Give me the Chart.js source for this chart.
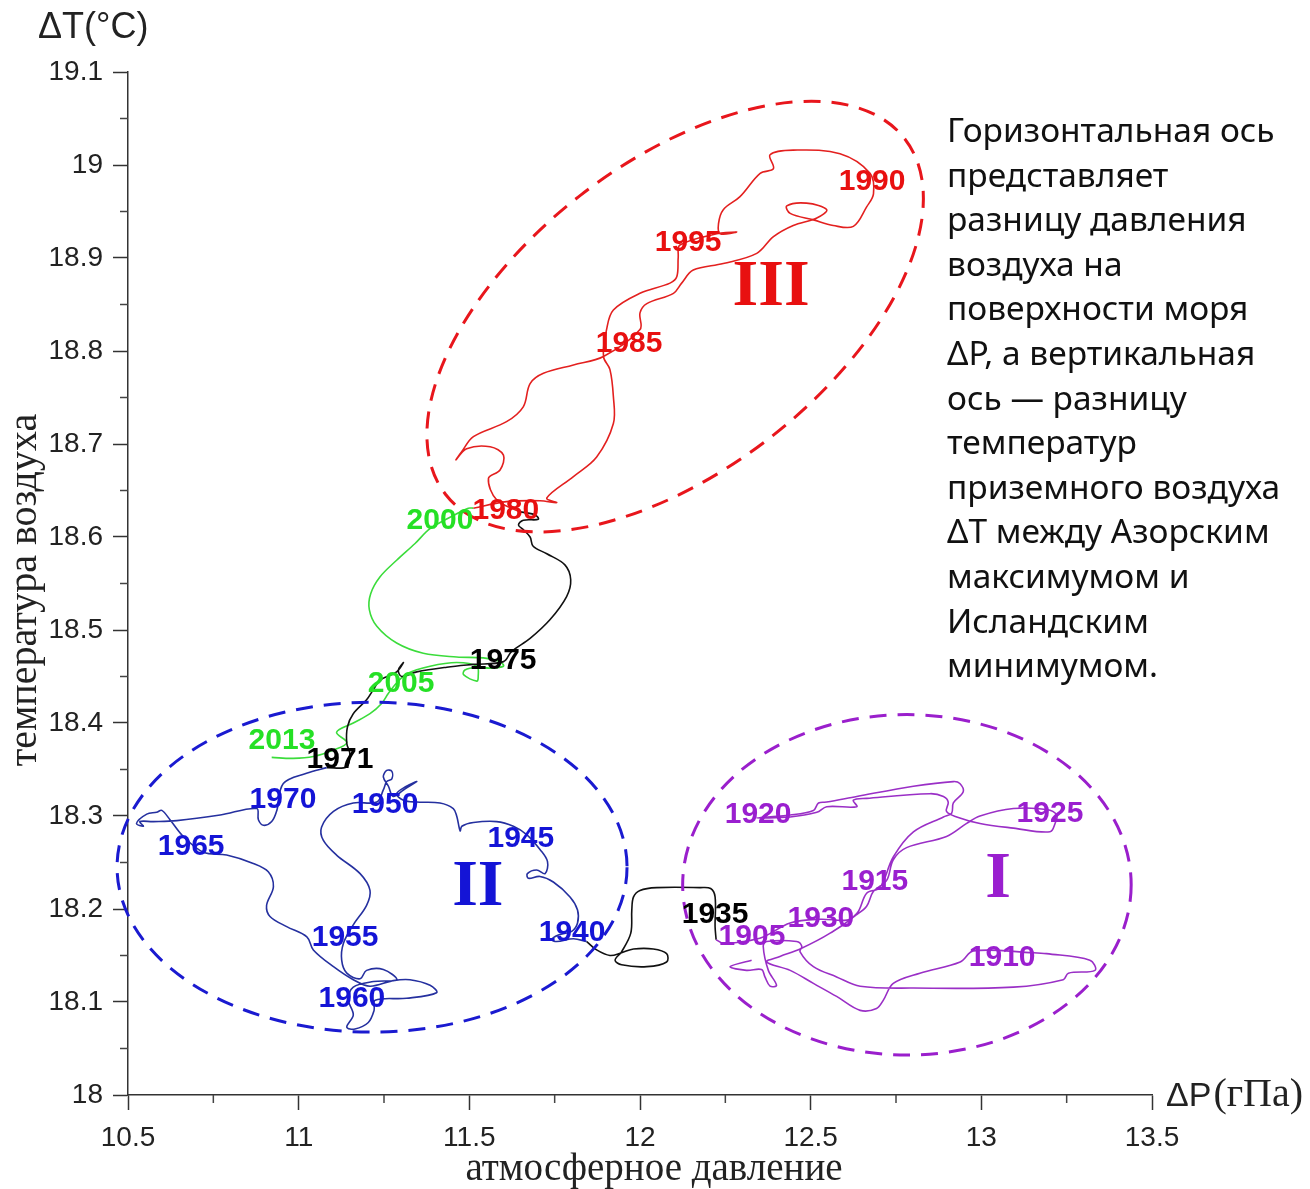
<!DOCTYPE html>
<html>
<head>
<meta charset="utf-8">
<script src="https://cdn.jsdelivr.net/npm/chart.js@4.4.1/dist/chart.umd.min.js"></script>
<style>
  html, body { margin: 0; padding: 0; background: #fff; }
  #wrap { width: 1310px; height: 1189px; position: relative; }
</style>
</head>
<body>
<div id="wrap"><canvas id="canvas" width="1310" height="1189"></canvas></div>
<script>
// trajectory of (dP, dT), split by colour as in the figure
var purpleX = [12.327,12.264,12.312,12.356,12.366,12.381,12.400,12.376,12.361,12.371,12.459,12.474,12.469,12.508,12.576,12.645,12.801,13.094,13.240,13.255,13.333,13.318,13.191,13.152,12.977,12.938,12.820,12.742,12.713,12.693,12.645,12.576,12.508,12.440,12.371,12.410,12.469,12.557,12.635,12.664,12.703,12.742,12.801,12.889,12.913,12.918,12.947,12.937,12.918,12.801,12.635,12.547,12.523,12.508,12.440,12.342,12.440,12.518,12.547,12.635,12.625,12.664,12.850,12.889,12.903,12.898,12.928,12.996,13.094,13.201,13.216,13.221,13.191,13.094,12.996,12.957,12.898,12.781,12.742,12.723,12.684,12.664,12.635,12.606,12.527,12.440,12.361,12.303,12.244,12.223];
var purpleY = [18.145,18.138,18.134,18.135,18.127,18.117,18.118,18.134,18.160,18.165,18.165,18.160,18.154,18.138,18.127,18.117,18.115,18.116,18.124,18.131,18.134,18.145,18.152,18.153,18.155,18.143,18.131,18.120,18.102,18.093,18.091,18.106,18.120,18.134,18.143,18.149,18.157,18.174,18.195,18.217,18.223,18.256,18.283,18.299,18.303,18.314,18.326,18.335,18.337,18.332,18.321,18.315,18.314,18.306,18.301,18.298,18.299,18.304,18.310,18.310,18.317,18.319,18.324,18.321,18.315,18.305,18.299,18.292,18.287,18.283,18.292,18.301,18.307,18.308,18.300,18.292,18.278,18.266,18.253,18.231,18.219,18.203,18.194,18.188,18.189,18.185,18.170,18.165,18.163,18.167];

var black1X = [12.223,12.220,12.220,12.207,12.176,12.049,12.000,11.981,11.976,11.973,11.946,11.927,11.946,12.020,12.078,12.078,12.039,11.981,11.946,11.912,11.873,11.844];
var black1Y = [18.167,18.181,18.213,18.222,18.223,18.223,18.220,18.213,18.199,18.174,18.154,18.145,18.140,18.138,18.143,18.152,18.157,18.157,18.153,18.150,18.156,18.165];

var blueX = [11.844,11.805,11.756,11.741,11.761,11.800,11.817,11.817,11.795,11.746,11.707,11.673,11.670,11.697,11.722,11.729,11.707,11.668,11.629,11.580,11.512,11.478,11.473,
  11.463,11.453,11.414,11.346,11.307,
  11.287,11.316,11.346,11.307,11.277,11.263,11.248,11.258,11.273,11.273,11.258,11.248,11.229,11.160,11.102,11.067,11.072,11.111,11.180,11.209,11.199,11.160,11.131,11.126,11.141,
  11.180,11.199,11.248,11.287,11.219,11.160,11.146,11.160,11.141,11.165,11.204,11.221,11.224,11.316,11.404,11.385,11.326,11.277,11.209,11.160,11.102,11.043,11.024,10.965,10.916,10.906,10.926,10.911,10.867,10.789,10.721,10.662,10.623,10.599,10.584,10.555,10.525,10.545,10.535,10.574,10.643,10.770,10.877,10.882,10.897,10.921,10.936,10.955,11.023,11.082];
var blueY = [18.165,18.168,18.165,18.167,18.172,18.176,18.185,18.199,18.213,18.229,18.235,18.233,18.238,18.242,18.238,18.251,18.264,18.280,18.289,18.294,18.293,18.289,18.284,
  18.300,18.308,18.314,18.315,18.317,
  18.324,18.332,18.337,18.328,18.321,18.332,18.342,18.349,18.348,18.340,18.337,18.328,18.315,18.314,18.305,18.288,18.274,18.258,18.238,18.220,18.204,18.183,18.163,18.145,18.131,
  18.125,18.134,18.135,18.124,18.122,18.116,18.102,18.086,18.073,18.071,18.078,18.091,18.102,18.104,18.110,18.118,18.124,18.123,18.117,18.124,18.138,18.156,18.170,18.181,18.192,18.204,18.224,18.240,18.249,18.258,18.261,18.278,18.296,18.306,18.304,18.302,18.292,18.289,18.294,18.294,18.295,18.301,18.308,18.296,18.290,18.294,18.306,18.335,18.346,18.352];

var black2X = [11.082,11.141,11.150,11.141,11.143,11.160,11.199,11.219,11.238,11.287,11.307,11.292,11.302,11.346,11.434,11.512,11.600,11.624,11.678,11.736,11.785,11.797,11.780,11.727,11.687,11.678,11.658,11.644,11.658,11.702,11.692,11.648];
var black2Y = [18.352,18.353,18.367,18.378,18.396,18.410,18.425,18.436,18.446,18.455,18.465,18.457,18.450,18.455,18.460,18.463,18.466,18.477,18.491,18.511,18.536,18.554,18.570,18.582,18.590,18.600,18.608,18.613,18.618,18.619,18.624,18.627];

var redX = [11.648,11.580,11.556,11.590,11.600,11.561,11.492,11.461,11.478,11.512,11.609,11.658,11.678,11.717,11.805,11.893,12.000,12.000,12.020,12.098,12.122,12.156,12.244,12.342,12.391,12.449,12.518,12.547,12.488,12.430,12.440,12.508,12.566,12.625,12.664,12.684,12.674,12.586,12.449,12.381,12.391,12.352,12.293,12.244,12.230,12.235,12.283,12.225,12.117,12.112,12.108,12.088,12.000,11.922,11.902,11.893,11.912,11.922,11.922,11.873,11.805,11.727,11.756,11.707,11.609,11.512];
var redY = [18.627,18.640,18.663,18.672,18.688,18.697,18.695,18.683,18.692,18.708,18.724,18.740,18.765,18.776,18.785,18.794,18.823,18.841,18.851,18.862,18.873,18.887,18.894,18.905,18.923,18.935,18.943,18.952,18.959,18.956,18.948,18.941,18.935,18.934,18.955,18.969,18.991,19.012,19.016,19.011,18.996,18.991,18.966,18.952,18.937,18.926,18.928,18.926,18.914,18.901,18.880,18.873,18.862,18.844,18.823,18.794,18.780,18.751,18.722,18.686,18.665,18.642,18.637,18.639,18.638,18.631];

var greenX = [11.512,11.497,11.463,11.385,11.341,11.287,11.238,11.211,11.207,11.229,11.287,11.365,11.463,11.541,11.590,11.600,11.561,11.522,11.487,11.483,11.522,11.526,11.522,11.463,11.385,11.317,11.287,11.263,11.243,11.209,11.160,11.111,11.141,11.102,11.043,10.984,10.921];
var greenY = [18.631,18.631,18.625,18.609,18.593,18.575,18.557,18.539,18.522,18.504,18.486,18.475,18.471,18.470,18.466,18.461,18.459,18.460,18.457,18.452,18.445,18.450,18.461,18.465,18.461,18.453,18.443,18.432,18.421,18.410,18.400,18.390,18.379,18.371,18.364,18.362,18.363];

// year labels: text, dP, dT, group
var yearText = ['1905','1910','1915','1920','1925','1930','1935','1940','1945','1950','1955','1960','1965','1970','1971','1975','1980','1985','1990','1995','2000','2005','2013'];
var yearX = [12.328,13.061,12.688,12.346,13.201,12.530,12.220,11.801,11.651,11.253,11.136,11.156,10.685,10.954,11.121,11.599,11.607,11.968,12.680,12.141,11.414,11.300,10.951];
var yearY = [18.170,18.148,18.229,18.301,18.302,18.189,18.194,18.174,18.276,18.312,18.169,18.104,18.267,18.318,18.360,18.467,18.628,18.808,18.982,18.916,18.618,18.442,18.381];
var yearGroup = ['p','p','p','p','p','p','k','b','b','b','b','b','b','b','k','k','r','r','r','r','g','g','g'];

// regions I, II, III: centre, end of major axis, minor/major ratio
var regionName = ['I','II','III'];
var regionCX = [12.782,11.215,12.103];
var regionCY = [18.226,18.245,18.837];
var regionMX = [13.439,11.962,12.776];
var regionMY = [18.226,18.245,19.028];
var regionRatio = [0.759,0.647,0.53];
var regionLabelX = [13.049,11.525,12.384];
var regionLabelY = [18.231,18.223,18.868];
var regionGroup = ['p','b','r'];

var xTicks = [10.5,11,11.5,12,12.5,13,13.5];
var yTicks = [18,18.1,18.2,18.3,18.4,18.5,18.6,18.7,18.8,18.9,19,19.1];

var note = ['Горизонтальная ось','представляет','разницу давления','воздуха на','поверхности моря','ΔP, а вертикальная','ось — разницу','температур','приземного воздуха','ΔT между Азорским','максимумом и','Исландским','минимумом.'];

var lineColor = { p: '#9a2fc6', k: '#111111', b: '#25309f', r: '#e3201f', g: '#3bdc3b' };
var textColor = { p: '#9a1fcf', k: '#000000', b: '#1414d6', r: '#e81010', g: '#25e025' };
var ringColor = { p: '#9a1fcc', b: '#1a1ad0', r: '#e8161c' };

function pts(xs, ys) {
  var out = [];
  for (var i = 0; i < Math.min(xs.length, ys.length); i++) out.push({x: xs[i], y: ys[i]});
  return out;
}
function line(xs, ys, c) {
  return { data: pts(xs, ys), borderColor: lineColor[c], borderWidth: 1.6, showLine: true,
           pointRadius: 0, tension: 0.35, fill: false };
}
function isIn(list, v) {
  for (var i = 0; i < list.length; i++) if (Math.abs(list[i] - v) < 1e-6) return true;
  return false;
}

var decor = {
  id: 'decor',
  afterDatasetsDraw: function(chart) {
    var ctx = chart.ctx, xs = chart.scales.x, ys = chart.scales.y;
    ctx.save();
    // dashed ellipses
    for (var i = 0; i < regionName.length; i++) {
      var cx = xs.getPixelForValue(regionCX[i]), cy = ys.getPixelForValue(regionCY[i]);
      var dx = xs.getPixelForValue(regionMX[i]) - cx, dy = ys.getPixelForValue(regionMY[i]) - cy;
      var a = Math.sqrt(dx * dx + dy * dy);
      ctx.beginPath();
      ctx.setLineDash([17, 11]);
      ctx.lineWidth = 3;
      ctx.strokeStyle = ringColor[regionGroup[i]];
      ctx.ellipse(cx, cy, a, a * regionRatio[i], Math.atan2(dy, dx), 0, Math.PI * 2);
      ctx.stroke();
    }
    ctx.setLineDash([]);
    // roman numerals
    ctx.font = 'bold 66px "Liberation Serif"';
    ctx.textAlign = 'center';
    ctx.textBaseline = 'middle';
    for (i = 0; i < regionName.length; i++) {
      ctx.fillStyle = textColor[regionGroup[i]];
      ctx.fillText(regionName[i], xs.getPixelForValue(regionLabelX[i]), ys.getPixelForValue(regionLabelY[i]));
    }
    // year labels
    ctx.font = 'bold 30px "Liberation Sans"';
    for (i = 0; i < yearText.length; i++) {
      ctx.fillStyle = textColor[yearGroup[i]];
      ctx.fillText(yearText[i], xs.getPixelForValue(yearX[i]), ys.getPixelForValue(yearY[i]));
    }
    ctx.restore();
  },
  afterDraw: function(chart) {
    var ctx = chart.ctx, xs = chart.scales.x, ys = chart.scales.y, ca = chart.chartArea;
    ctx.save();
    // minor ticks
    ctx.strokeStyle = '#444';
    ctx.lineWidth = 1.5;
    xs.ticks.forEach(function(t) {
      if (isIn(xTicks, t.value)) return;
      var px = xs.getPixelForValue(t.value);
      ctx.beginPath(); ctx.moveTo(px, ca.bottom); ctx.lineTo(px, ca.bottom + 8); ctx.stroke();
    });
    ys.ticks.forEach(function(t) {
      if (isIn(yTicks, t.value)) return;
      var py = ys.getPixelForValue(t.value);
      ctx.beginPath(); ctx.moveTo(ca.left, py); ctx.lineTo(ca.left - 8, py); ctx.stroke();
    });
    // axis titles
    ctx.fillStyle = '#222';
    ctx.textBaseline = 'alphabetic';
    ctx.textAlign = 'left';
    ctx.font = '36px "Liberation Sans"';
    ctx.fillText('ΔT(°C)', 38, 38);
    ctx.font = '34px "Liberation Sans"';
    ctx.fillText('ΔP', 1166, 1106);
    var w = ctx.measureText('ΔP').width;
    ctx.font = '40px "Liberation Serif"';
    ctx.fillText('(гПа)', 1166 + w + 2, 1106);
    ctx.textAlign = 'center';
    ctx.font = '39px "Liberation Serif"';
    ctx.fillText('атмосферное давление', 654, 1180);
    ctx.save();
    ctx.translate(36, 590);
    ctx.rotate(-Math.PI / 2);
    ctx.font = '40px "Liberation Serif"';
    ctx.fillText('температура воздуха', 0, 0);
    ctx.restore();
    // note on the right
    ctx.textAlign = 'left';
    ctx.fillStyle = '#111';
    ctx.font = '33.5px "Noto Sans"';
    for (var i = 0; i < note.length; i++) {
      ctx.fillText(note[i], 947, 142 + i * 44.6);
    }
    ctx.restore();
  }
};

var ctx = document.getElementById('canvas').getContext('2d');
var config = {
  type: 'scatter',
  data: {
    datasets: [
      line(purpleX, purpleY, 'p'),
      line(black1X, black1Y, 'k'),
      line(blueX, blueY, 'b'),
      line(black2X, black2Y, 'k'),
      line(redX, redY, 'r'),
      line(greenX, greenY, 'g')
    ]
  },
  options: {
    responsive: false,
    animation: false,
    layout: { padding: { left: 0, top: 72, right: 158, bottom: 0 } },
    plugins: { legend: { display: false }, tooltip: { enabled: false } },
    scales: {
      x: {
        type: 'linear', min: 10.5, max: 13.5,
        border: { color: '#333', width: 1.5 },
        grid: { drawOnChartArea: false, tickLength: 15, tickWidth: 1.5,
                tickColor: function(c) { return c.tick && isIn(xTicks, c.tick.value) ? '#333' : 'rgba(0,0,0,0)'; } },
        ticks: { stepSize: 0.25, padding: 11, color: '#222', font: { family: 'Liberation Sans', size: 28 },
                 maxRotation: 0, autoSkip: false,
                 callback: function(v) { return isIn(xTicks, v) ? String(Math.round(v * 10) / 10) : ''; } },
        afterFit: function(s) { s.height = 94; }
      },
      y: {
        type: 'linear', min: 18, max: 19.1,
        border: { color: '#333', width: 1.5 },
        grid: { drawOnChartArea: false, tickLength: 15, tickWidth: 1.5,
                tickColor: function(c) { return c.tick && isIn(yTicks, c.tick.value) ? '#333' : 'rgba(0,0,0,0)'; } },
        ticks: { stepSize: 0.05, padding: 10, color: '#222', font: { family: 'Liberation Sans', size: 28 },
                 autoSkip: false,
                 callback: function(v) { return isIn(yTicks, v) ? String(Math.round(v * 10) / 10) : ''; } },
        afterFit: function(s) { s.width = 128; }
      }
    }
  },
  plugins: [decor]
};
var chart = new Chart(ctx, config);
</script>
</body>
</html>
